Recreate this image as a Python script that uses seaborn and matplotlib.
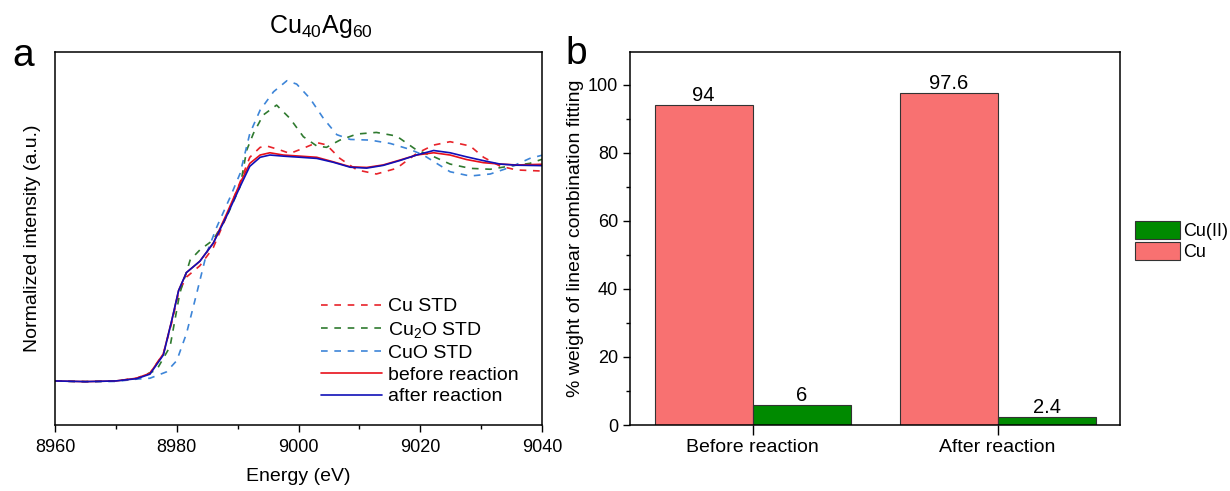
import numpy as np
import pandas as pd
import matplotlib
matplotlib.use("Agg")
import matplotlib.pyplot as plt
from matplotlib.ticker import MultipleLocator
import seaborn as sns

# ---------------- data: XANES (panel a) ----------------
energy_sample = [8960, 8965, 8970, 8973.4, 8975.6, 8977.8, 8979.2, 8980.3, 8981.6, 8983.8,
                 8986.0, 8988.2, 8990.4, 8992.0, 8993.7, 8995.3, 8997.5, 9000.3, 9003.0,
                 9005.7, 9008.5, 9011.2, 9013.9, 9016.7, 9019.4, 9022.2, 9024.9, 9027.6,
                 9030.4, 9033.1, 9035.8, 9040]
before_reaction = [0.0, -0.003, 0.0, 0.012, 0.034, 0.12, 0.27, 0.40, 0.48, 0.53,
                   0.61, 0.74, 0.875, 0.963, 1.0, 1.01, 1.0, 0.995, 0.99,
                   0.97, 0.948, 0.945, 0.956, 0.978, 1.0, 1.01, 1.0, 0.98,
                   0.966, 0.96, 0.956, 0.959]
after_reaction = [0.0, -0.003, 0.0, 0.01, 0.03, 0.115, 0.27, 0.40, 0.48, 0.53,
                  0.61, 0.73, 0.86, 0.95, 0.99, 1.0, 0.995, 0.99, 0.985,
                  0.968, 0.946, 0.942, 0.954, 0.976, 1.0, 1.02, 1.01, 0.992,
                  0.975, 0.96, 0.955, 0.953]

energy_cu = [8960, 8965, 8970, 8973.4, 8975.6, 8977.8, 8979.2, 8980.3, 8981.6, 8983.8,
             8986.0, 8988.2, 8990.4, 8992.0, 8993.7, 8994.8, 8997.0, 8998.6, 9000.8,
             9003.0, 9004.6, 9006.8, 9009.6, 9012.8, 9016.1, 9019.4, 9022.2, 9024.9,
             9028.2, 9030.4, 9033.1, 9035.8, 9040]
cu_std = [0.0, -0.003, 0.0, 0.012, 0.035, 0.12, 0.26, 0.39, 0.46, 0.51,
          0.59, 0.73, 0.88, 0.99, 1.034, 1.04, 1.022, 1.007, 1.03,
          1.055, 1.045, 0.985, 0.934, 0.916, 0.941, 1.007, 1.044, 1.059,
          1.04, 0.99, 0.951, 0.934, 0.929]

energy_cu2o = [8960, 8965, 8970, 8973.4, 8976.7, 8978.9, 8980.5, 8982.2, 8983.8, 8986.0,
               8988.2, 8990.4, 8991.5, 8992.6, 8994.2, 8996.4, 8998.6, 9000.8, 9003.0,
               9004.6, 9006.8, 9009.6, 9012.8, 9016.1, 9019.4, 9022.2, 9024.9, 9028.2,
               9031.5, 9034.7, 9038.0, 9040]
cu2o_std = [0.0, -0.003, 0.0, 0.01, 0.049, 0.152, 0.388, 0.535, 0.58, 0.624,
            0.727, 0.86, 1.022, 1.096, 1.177, 1.221, 1.162, 1.081, 1.04,
            1.034, 1.066, 1.093, 1.10, 1.084, 1.022, 0.993, 0.96, 0.941,
            0.937, 0.951, 0.963, 0.981]

energy_cuo = [8960, 8965, 8970, 8973.4, 8975.6, 8978.3, 8980.0, 8981.6, 8983.3, 8984.9,
              8986.6, 8988.8, 8990.4, 8992.0, 8993.7, 8995.9, 8998.1, 8999.7, 9001.9,
              9004.1, 9006.3, 9008.5, 9011.8, 9015.1, 9018.3, 9020.5, 9022.7, 9024.9,
              9028.2, 9031.5, 9034.7, 9038.0, 9040]
cuo_std = [0.0, -0.004, -0.002, 0.008, 0.012, 0.04, 0.09, 0.21, 0.39, 0.565,
           0.683, 0.815, 0.918, 1.095, 1.199, 1.28, 1.329, 1.314, 1.25,
           1.162, 1.09, 1.069, 1.066, 1.051, 1.025, 1.0, 0.963, 0.926,
           0.907, 0.916, 0.945, 0.985, 0.999]

# ---------------- data: LCF weights (panel b) ----------------
stages = ["Before reaction", "After reaction"]
cu_weight = [94, 97.6]
cu2_weight = [6, 2.4]
species = ["Cu", "Cu(II)"]

# ---------------- style ----------------
sns.set_style("ticks")
plt.rcParams["font.family"] = ["Liberation Sans", "DejaVu Sans"]
plt.rcParams["mathtext.fontset"] = "custom"
plt.rcParams["mathtext.rm"] = "Liberation Sans"
plt.rcParams["mathtext.it"] = "Liberation Sans:italic"
plt.rcParams["mathtext.default"] = "regular"
for k in ["text.color", "axes.labelcolor", "xtick.color", "ytick.color", "axes.edgecolor"]:
    plt.rcParams[k] = "black"

fig = plt.figure(figsize=(12.3, 4.91), dpi=100)
W, H = 1230, 491
ax1 = fig.add_axes([55 / W, 1 - 425 / H, (542 - 55) / W, (425 - 52) / H])
ax2 = fig.add_axes([630 / W, 1 - 425 / H, (1120 - 630) / W, (425 - 52) / H])

# ---------------- panel a ----------------
series = [
    ("Cu STD", energy_cu, cu_std, "#e8232a", (0, (4, 4))),
    ("Cu$_2$O STD", energy_cu2o, cu2o_std, "#2f7a2f", (0, (4, 4))),
    ("CuO STD", energy_cuo, cuo_std, "#3d85d8", (0, (4, 4))),
    ("before reaction", energy_sample, before_reaction, "#e8101a", "-"),
    ("after reaction", energy_sample, after_reaction, "#1010b8", "-"),
]
for label, ex, ey, col, ls in series:
    df = pd.DataFrame({"E": ex, "I": ey})
    sns.lineplot(data=df, x="E", y="I", ax=ax1, color=col, linestyle=ls,
                 linewidth=1.2, label=label, sort=True, estimator=None)

ax1.set_xlim(8960, 9040)
ax1.set_ylim(-0.195, 1.456)
ax1.xaxis.set_major_locator(MultipleLocator(20))
ax1.xaxis.set_minor_locator(MultipleLocator(10))
ax1.set_yticks([])
ax1.tick_params(axis="x", which="major", direction="out", length=5, width=1,
                labelsize=13, pad=5)
ax1.tick_params(axis="x", which="minor", direction="out", length=3, width=1)
ax1.set_xlabel("Energy (eV)", fontsize=14, labelpad=9)
ax1.set_ylabel("Normalized intensity (a.u.)", fontsize=14, labelpad=10)
for s in ax1.spines.values():
    s.set_linewidth(1.1)
fig.text(321 / W, 1 - 27 / H, "Cu$_{40}$Ag$_{60}$", fontsize=18, ha="center", va="center")
leg1 = ax1.legend(loc="lower right", bbox_to_anchor=(0.979, 0.016), frameon=False,
                  fontsize=14, handlelength=3.1, handletextpad=0.3,
                  labelspacing=0.22, borderpad=0.2)

# ---------------- panel b ----------------
bars = pd.DataFrame({
    "stage": stages * 2,
    "weight": cu_weight + cu2_weight,
    "species": [species[0]] * len(stages) + [species[1]] * len(stages),
})
sns.barplot(data=bars, x="stage", y="weight", hue="species", hue_order=species,
            palette={"Cu": "#f87171", "Cu(II)": "#008a00"}, width=0.8,
            edgecolor="#333333", linewidth=0.8, ax=ax2, saturation=1)
for cont in ax2.containers:
    ax2.bar_label(cont, fmt="%g", fontsize=14.5, padding=0)
ax2.set_xlim(-0.5, 1.5)
ax2.set_ylim(0, 109.7)
ax2.yaxis.set_major_locator(MultipleLocator(20))
ax2.yaxis.set_minor_locator(MultipleLocator(10))
ax2.tick_params(axis="both", which="major", direction="out", length=5, width=1,
                labelsize=13)
ax2.tick_params(axis="x", which="major", length=7, pad=3, labelsize=14)
ax2.tick_params(axis="y", which="minor", direction="out", length=3, width=1)
ax2.set_xlabel("")
ax2.set_ylabel("% weight of linear combination fitting", fontsize=14, labelpad=3)
for s in ax2.spines.values():
    s.set_linewidth(1.1)
handles, labels = ax2.get_legend_handles_labels()
ax2.legend(handles[::-1], labels[::-1], loc="center left",
           bbox_to_anchor=(1.004, 0.493), frameon=False, fontsize=13,
           handlelength=2.5, handleheight=1.15, handletextpad=0.2,
           labelspacing=0.1, borderpad=0.2)

fig.text(23 / W, 1 - 56 / H, "a", fontsize=28, ha="center", va="center")
fig.text(576 / W, 1 - 54 / H, "b", fontsize=28, ha="center", va="center")

fig.savefig("out.png", dpi=100)
